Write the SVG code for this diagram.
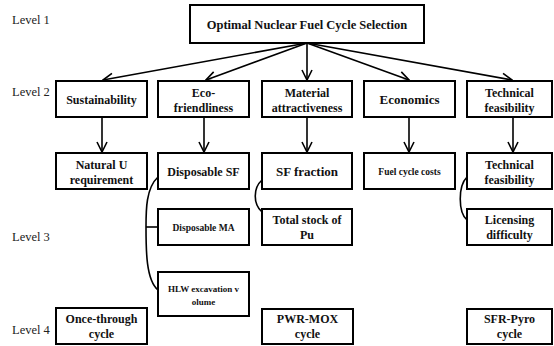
<svg xmlns="http://www.w3.org/2000/svg" width="554" height="346" viewBox="0 0 554 346">
<defs>
<marker id="ah" viewBox="0 0 12 12" refX="11" refY="6" markerWidth="12" markerHeight="12" markerUnits="userSpaceOnUse" orient="auto">
<path d="M1,1 L11,6 L1,11" fill="none" stroke="#000" stroke-width="1.6"/>
</marker>
<style>
text{font-family:'Liberation Serif','Times New Roman',Times,serif}
.box{fill:#fff;stroke:#000;stroke-width:2}
.t{font-weight:bold;font-size:12px;text-anchor:middle;fill:#111}
.big{font-size:12.5px}
.s9{font-size:9.5px}
.s8{font-size:9px}
.lv{font-size:12.5px;fill:#222}
.c{fill:none;stroke:#000;stroke-width:1.6}
</style>
</defs>
<rect width="554" height="346" fill="#fff"/>
<text class="lv" x="12" y="24">Level 1</text>
<text class="lv" x="12" y="96">Level 2</text>
<text class="lv" x="12" y="241">Level 3</text>
<text class="lv" x="12" y="334">Level 4</text>
<g id="connectors">
<path class="c" d="M307,43 L103,80" marker-end="url(#ah)"/>
<path class="c" d="M307,43 L206,80" marker-end="url(#ah)"/>
<path class="c" d="M307,43 L307,80" marker-end="url(#ah)"/>
<path class="c" d="M307,43 L409,80" marker-end="url(#ah)"/>
<path class="c" d="M307,43 L512,80" marker-end="url(#ah)"/>
<path class="c" d="M102,117 L102,152" marker-end="url(#ah)"/>
<path class="c" d="M204,117 L204,152" marker-end="url(#ah)"/>
<path class="c" d="M307,117 L307,152" marker-end="url(#ah)"/>
<path class="c" d="M409,117 L409,152" marker-end="url(#ah)"/>
<path class="c" d="M513,117 L513,152" marker-end="url(#ah)"/>
<path class="c" d="M158,177 C146,188 146,210 146,227 C146,250 146,280 158,290"/>
<path class="c" d="M146,227 L158,227"/>
<path class="c" d="M262,180 C253,188 253,204 262,212"/>
<path class="c" d="M467,177 C458,186 458,212 467,220"/>
</g>
<g id="n-root"><rect class="box" x="190" y="5" width="234" height="38"/><text class="t big" x="307" y="29">Optimal Nuclear Fuel Cycle Selection</text></g>
<g id="n-sust"><rect class="box" x="56" y="81" width="91" height="36"/><text class="t" x="101.5" y="104">Sustainability</text></g>
<g id="n-eco"><rect class="box" x="158" y="81" width="91" height="36"/><text class="t" x="203.5" y="97">Eco-</text><text class="t" x="203.5" y="112">friendliness</text></g>
<g id="n-mat"><rect class="box" x="262" y="81" width="90" height="36"/><text class="t" x="307" y="97">Material</text><text class="t" x="307" y="112">attractiveness</text></g>
<g id="n-econ"><rect class="box" x="364" y="81" width="91" height="36"/><text class="t" x="409.5" y="104" style="font-size:13px">Economics</text></g>
<g id="n-tech"><rect class="box" x="467" y="81" width="85" height="36"/><text class="t" x="509.5" y="97">Technical</text><text class="t" x="509.5" y="112">feasibility</text></g>
<g id="n-natu"><rect class="box" x="56" y="153" width="91" height="36"/><text class="t" x="101.5" y="169">Natural U</text><text class="t" x="101.5" y="184">requirement</text></g>
<g id="n-dsf"><rect class="box" x="158" y="153" width="91" height="36"/><text class="t" x="203.5" y="176">Disposable SF</text></g>
<g id="n-sff"><rect class="box" x="262" y="153" width="90" height="36"/><text class="t" x="307" y="176" style="font-size:13px">SF fraction</text></g>
<g id="n-fcc"><rect class="box" x="364" y="153" width="91" height="36"/><text class="t s9" x="409.5" y="175">Fuel cycle costs</text></g>
<g id="n-tf"><rect class="box" x="467" y="153" width="85" height="36"/><text class="t" x="509.5" y="169">Technical</text><text class="t" x="509.5" y="184">feasibility</text></g>
<g id="n-dma"><rect class="box" x="158" y="209" width="91" height="36"/><text class="t s9" x="203.5" y="231">Disposable MA</text></g>
<g id="n-pu"><rect class="box" x="262" y="209" width="90" height="36"/><text class="t" x="307" y="224">Total stock of</text><text class="t" x="307" y="239">Pu</text></g>
<g id="n-lic"><rect class="box" x="467" y="209" width="85" height="36"/><text class="t" x="509.5" y="224">Licensing</text><text class="t" x="509.5" y="239">difficulty</text></g>
<g id="n-hlw"><rect class="box" x="158" y="272" width="91" height="44"/><text class="t s8" x="203.5" y="292">HLW excavation v</text><text class="t s8" x="203.5" y="305">olume</text></g>
<g id="n-once"><rect class="box" x="56" y="308" width="91" height="36"/><text class="t" x="101.5" y="323">Once-through</text><text class="t" x="101.5" y="338">cycle</text></g>
<g id="n-pwr"><rect class="box" x="262" y="309" width="91" height="35"/><text class="t" x="307.5" y="323">PWR-MOX</text><text class="t" x="307.5" y="338">cycle</text></g>
<g id="n-sfr"><rect class="box" x="467" y="309" width="85" height="35"/><text class="t" x="509.5" y="323">SFR-Pyro</text><text class="t" x="509.5" y="338">cycle</text></g>
</svg>
